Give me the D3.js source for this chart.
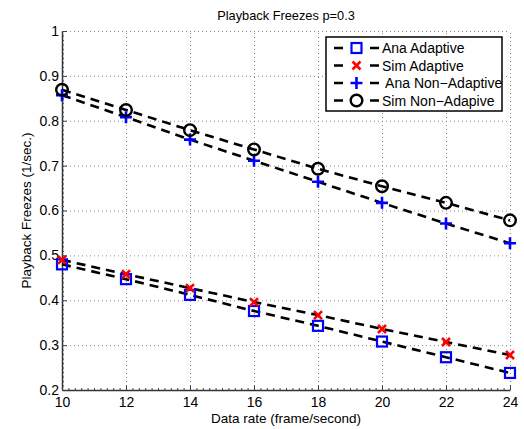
<!DOCTYPE html>
<html>
<head>
<meta charset="utf-8">
<script src="https://cdn.jsdelivr.net/npm/d3@7"></script>
<style>
  html, body { margin: 0; padding: 0; background: #fff; }
  svg text { font-family: "Liberation Sans", Arial, Helvetica, sans-serif; fill: #000; }
</style>
</head>
<body>
<svg id="chart" width="524" height="429"></svg>
<script>
// Data rate (frame/second)
const dataRates = [10, 12, 14, 16, 18, 20, 22, 24];

// Playback freezes (1/sec.) per series
const anaAdaptive    = [0.480, 0.447, 0.412, 0.376, 0.343, 0.308, 0.273, 0.238];
const simAdaptive    = [0.490, 0.458, 0.427, 0.396, 0.367, 0.336, 0.307, 0.278];
const anaNonAdaptive = [0.857, 0.808, 0.758, 0.711, 0.664, 0.617, 0.571, 0.527];
const simNonAdaptive = [0.869, 0.824, 0.779, 0.736, 0.693, 0.654, 0.617, 0.578];

const seriesNames = ["Ana Adaptive", "Sim Adaptive", " Ana Non\u2212Adaptive", "Sim Non\u2212Adapive"];
const xTicks = [10, 12, 14, 16, 18, 20, 22, 24];
const yTicks = [0.2, 0.3, 0.4, 0.5, 0.6, 0.7, 0.8, 0.9, 1];

const series = [
  { name: seriesNames[0], values: anaAdaptive,    marker: "square", color: "#0000ff" },
  { name: seriesNames[1], values: simAdaptive,    marker: "cross",  color: "#ff0000" },
  { name: seriesNames[2], values: anaNonAdaptive, marker: "plus",   color: "#0000ff" },
  { name: seriesNames[3], values: simNonAdaptive, marker: "circle", color: "#000000" }
];

const svg = d3.select("#chart");
const margin = { left: 62, right: 14, top: 31, bottom: 39 };
const W = 524, H = 429;

const x = d3.scaleLinear().domain([10, 24]).range([margin.left, W - margin.right]);
const y = d3.scaleLinear().domain([0.2, 1]).range([H - margin.bottom, margin.top]);

// dotted grid
const grid = svg.append("g").attr("stroke", "#888").attr("stroke-width", 1)
  .attr("stroke-dasharray", "1,3");
grid.selectAll(".gx").data(xTicks.slice(1)).join("line")
  .attr("x1", d => x(d) + 0.5).attr("x2", d => x(d) + 0.5)
  .attr("y1", y(0.2)).attr("y2", y(1));
grid.selectAll(".gy").data(yTicks.slice(1)).join("line")
  .attr("x1", x(10)).attr("x2", x(24))
  .attr("y1", d => y(d) + 0.5).attr("y2", d => y(d) + 0.5);

// axes: major ticks inward with labels, minor ticks inward
const xAxis = svg.append("g").attr("transform", `translate(0,${y(0.2)})`)
  .call(d3.axisBottom(x).tickValues(xTicks).tickFormat(d3.format("d")).tickSizeInner(-5).tickSizeOuter(0).tickPadding(7));
const yAxis = svg.append("g").attr("transform", `translate(${x(10)},0)`)
  .call(d3.axisLeft(y).tickValues(yTicks).tickFormat(d => d === 1 ? "1" : d3.format(".1f")(d)).tickSizeInner(-5).tickSizeOuter(0).tickPadding(3));

const xMinor = d3.range(10, 24.001, 0.2);
const yMinor = d3.range(0.2, 1.0001, 0.01);
svg.append("g").attr("transform", `translate(0,${y(0.2)})`)
  .call(d3.axisBottom(x).tickValues(xMinor).tickFormat("").tickSizeInner(-2).tickSizeOuter(0))
  .select(".domain").remove();
svg.append("g").attr("transform", `translate(${x(10)},0)`)
  .call(d3.axisLeft(y).tickValues(yMinor).tickFormat("").tickSizeInner(-2).tickSizeOuter(0))
  .select(".domain").remove();

svg.selectAll(".domain").attr("stroke", "#333").attr("stroke-width", 1.5);
svg.selectAll(".tick line").attr("stroke", "#444");
[xAxis, yAxis].forEach(a => a.selectAll("text").attr("font-size", 14)
  .attr("font-family", "Liberation Sans, Arial, sans-serif").attr("fill", "#000"));

// marker drawing
function drawMarker(g, type, color, cx, cy) {
  if (type === "square") {
    g.append("rect").attr("x", cx - 5).attr("y", cy - 5).attr("width", 10).attr("height", 10)
      .attr("fill", "none").attr("stroke", color).attr("stroke-width", 2.2);
  } else if (type === "circle") {
    g.append("circle").attr("cx", cx).attr("cy", cy).attr("r", 5.8)
      .attr("fill", "none").attr("stroke", color).attr("stroke-width", 2.4);
  } else if (type === "plus") {
    g.append("path").attr("d", `M${cx - 6},${cy}H${cx + 6}M${cx},${cy - 6}V${cy + 6}`)
      .attr("stroke", color).attr("stroke-width", 2.6).attr("fill", "none");
  } else if (type === "cross") {
    g.append("path").attr("d", `M${cx - 4},${cy - 4}L${cx + 4},${cy + 4}M${cx - 4},${cy + 4}L${cx + 4},${cy - 4}`)
      .attr("stroke", color).attr("stroke-width", 2.6).attr("fill", "none");
  }
}

const line = d3.line().x(d => x(d[0])).y(d => y(d[1]));

// dashed lines
series.forEach(s => {
  const pts = dataRates.map((r, i) => [r, s.values[i]]);
  svg.append("path").datum(pts).attr("d", line)
    .attr("fill", "none").attr("stroke", "#000").attr("stroke-width", 2.6)
    .attr("stroke-dasharray", "9,6");
});
// markers
series.forEach(s => {
  const g = svg.append("g");
  dataRates.forEach((r, i) => drawMarker(g, s.marker, s.color, x(r), y(s.values[i])));
});

// title and axis labels
svg.append("text").attr("x", 286).attr("y", 20).attr("text-anchor", "middle")
  .attr("font-size", 12.8).text("Playback Freezes p=0.3");
svg.append("text").attr("x", 286).attr("y", 423).attr("text-anchor", "middle")
  .attr("font-size", 13.5).text("Data rate (frame/second)");
svg.append("text").attr("transform", `translate(31,${(y(0.2) + y(1)) / 2}) rotate(-90)`)
  .attr("text-anchor", "middle").attr("font-size", 13.5).text("Playback Freezes (1/sec.)");

// legend
const lg = svg.append("g");
lg.append("rect").attr("x", 326).attr("y", 37).attr("width", 176).attr("height", 74)
  .attr("fill", "#fff").attr("stroke", "#000").attr("stroke-width", 1.5);
const rowY = [48, 65.5, 83, 100.5];
series.forEach((s, i) => {
  const yy = rowY[i];
  lg.append("line").attr("x1", 334).attr("x2", 379).attr("y1", yy).attr("y2", yy)
    .attr("stroke", "#000").attr("stroke-width", 2.6).attr("stroke-dasharray", "9,27");
  drawMarker(lg, s.marker, s.color, 356.5, yy);
  lg.append("text").attr("x", 382).attr("y", yy + 5).attr("font-size", 14)
    .attr("xml:space", "preserve").style("white-space", "pre").text(s.name);
});
</script>
</body>
</html>
